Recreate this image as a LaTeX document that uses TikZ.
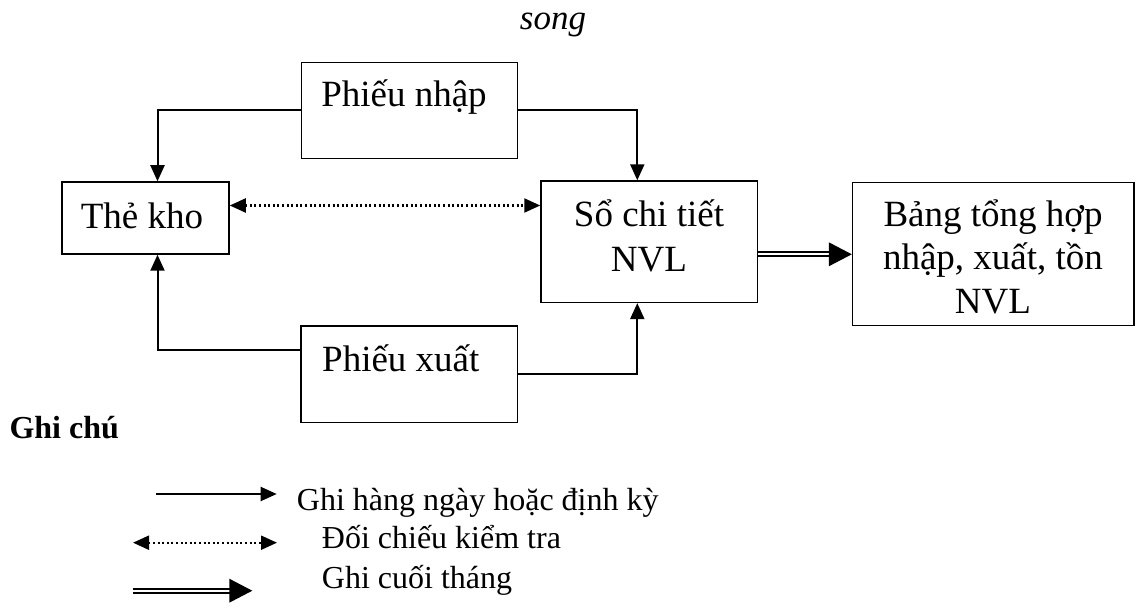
\documentclass[tikz,border=0pt]{standalone}
\usepackage{fontspec}
\setmainfont{Liberation Serif}
\usetikzlibrary{arrows.meta}
\begin{document}
\begin{tikzpicture}[x=1pt,y=-1pt,
  box/.style={draw, line width=1.5pt, inner sep=0pt},
  boxtext/.style={font=\fontsize{37}{44}\selectfont, inner sep=0pt, anchor=base},
  legtext/.style={font=\fontsize{32}{38}\selectfont, inner sep=0pt, anchor=base west},
  flow/.style={line width=2pt, -{Triangle[length=16pt,width=14pt]}},
  check/.style={line width=2.1pt, dash pattern=on 2pt off 2.6pt,
    {Triangle[length=16pt,width=14pt]}-{Triangle[length=16pt,width=14pt]}},
  dblshaft/.style={double, line width=1.9pt, double distance=2.4pt, shorten >=20pt},
]
\useasboundingbox (0,0) rectangle (1141,612);

% heading fragment
\node[font=\fontsize{35}{42}\selectfont\itshape, inner sep=0pt, anchor=base] (song) at (553,30) {song};

% documents and ledgers
\node[box, minimum width=216pt, minimum height=95.6pt] (pn) at (409.7,110.5) {};
\node[box, minimum width=167pt, minimum height=72pt] (tk) at (145.5,218) {};
\node[box, minimum width=216.6pt, minimum height=121.3pt] (so) at (649.3,241.7) {};
\node[box, minimum width=281.5pt, minimum height=143pt] (bg) at (993.3,254.2) {};
\node[box, minimum width=216.5pt, minimum height=96.3pt] (px) at (409.2,374.2) {};

\node[boxtext] (pn-t) at (404,106.7) {Phiếu nhập};
\node[boxtext] (tk-t) at (142,228.3) {Thẻ kho};
\node[boxtext] (so-t1) at (649,226.7) {Sổ chi tiết};
\node[boxtext] (so-t2) at (649,271.7) {NVL};
\node[boxtext] (bg-t1) at (993,226.7) {Bảng tổng hợp};
\node[boxtext] (bg-t2) at (993,270) {nhập, xuất, tồn};
\node[boxtext] (bg-t3) at (993,313.3) {NVL};
\node[boxtext] (px-t) at (400.8,371.7) {Phiếu xuất};

% daily postings
\draw[flow] (pn.west) -| ([xshift=12pt]tk.north);
\draw[flow] (pn.east) -| ([xshift=-12pt]so.north);
\draw[flow] ([yshift=24pt]px.west) -| ([xshift=12pt]tk.south);
\draw[flow] (px.east) -| ([xshift=-12pt]so.south);

% cross-check between stock card and detail ledger
\coordinate (c0) at ([yshift=12.5pt]tk.east);
\coordinate (c1) at (c0 -| so.west);
\draw[check] (c0) -- (c1);

% month-end posting
\coordinate (d0) at ([yshift=-12.6pt]so.east);
\coordinate (d1) at (d0 -| bg.west);
\draw[dblshaft] (d0) -- (d1);
\fill (d1) -- ++(-23,-12) -- ++(0,24) -- cycle;

% legend
\node[font=\fontsize{32}{38}\selectfont\bfseries, inner sep=0pt, anchor=base west] (note) at (9.3,438.5) {Ghi chú};

\coordinate (l1a) at (156,494);
\coordinate (l1b) at (276.7,494);
\draw[flow] (l1a) -- (l1b);
\node[legtext] (l1t) at (296.7,510) {Ghi hàng ngày hoặc định kỳ};

\coordinate (l2a) at (133,542.7);
\coordinate (l2b) at (277,542.7);
\draw[check] (l2a) -- (l2b);
\node[legtext] (l2t) at (321.7,548) {Đối chiếu kiểm tra};

\coordinate (l3a) at (132.7,590.7);
\coordinate (l3b) at (252.3,590.7);
\draw[dblshaft] (l3a) -- (l3b);
\fill (l3b) -- ++(-23,-12) -- ++(0,24) -- cycle;
\node[legtext] (l3t) at (321.7,588) {Ghi cuối tháng};
\end{tikzpicture}
\end{document}
